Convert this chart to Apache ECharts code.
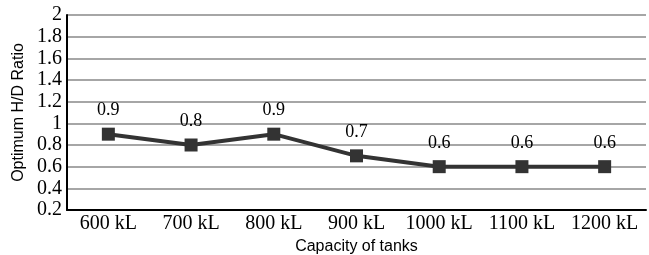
<!DOCTYPE html>
<html>
<head>
<meta charset="utf-8">
<script src="https://cdn.jsdelivr.net/npm/echarts@6/dist/echarts.min.js"></script>
<style>
  html, body { margin: 0; padding: 0; background: #fff; }
  #chart { width: 649px; height: 255px; }
</style>
</head>
<body>
<div id="chart"></div>
<script>
const categories = ['600 kL', '700 kL', '800 kL', '900 kL', '1000 kL', '1100 kL', '1200 kL']
const hdRatio = [0.9, 0.8, 0.9, 0.7, 0.6, 0.6, 0.6]
const yTicks = [0.2, 0.4, 0.6, 0.8, 1, 1.2, 1.4, 1.6, 1.8, 2]

const serif = '"Liberation Serif", "DejaVu Serif", serif'
const sans = '"Liberation Sans", Arial, sans-serif'

const chart = echarts.init(document.getElementById('chart'))

chart.setOption({
  animation: false,
  grid: {
    left: 67,
    right: 3,
    top: 15,
    bottom: 45,
    outerBoundsMode: 'none',
    containLabel: false
  },
  xAxis: {
    type: 'category',
    data: categories,
    boundaryGap: true,
    name: 'Capacity of tanks',
    nameLocation: 'middle',
    nameGap: 26,
    nameTextStyle: { fontFamily: sans, fontSize: 16, color: '#000' },
    axisLine: { lineStyle: { color: '#000', width: 2 } },
    axisTick: { show: false },
    axisLabel: { interval: 0, fontFamily: serif, fontSize: 20, color: '#000', margin: 4 },
    splitLine: { show: false }
  },
  yAxis: {
    type: 'value',
    min: yTicks[0],
    max: yTicks[yTicks.length - 1],
    interval: 0.2,
    name: 'Optimum H/D Ratio',
    nameLocation: 'middle',
    nameGap: 36,
    nameTextStyle: { fontFamily: sans, fontSize: 16, color: '#000' },
    axisLine: { show: true, lineStyle: { color: '#000', width: 2 } },
    axisTick: { show: false },
    axisLabel: {
      fontFamily: serif,
      fontSize: 20,
      color: '#000',
      margin: 5,
      formatter: function (v) {
        return String(Math.round(v * 10) / 10)
      }
    },
    splitLine: { show: true, lineStyle: { color: '#a6a6a6', width: 2 } }
  },
  series: [
    {
      name: 'Optimum H/D Ratio',
      type: 'line',
      data: hdRatio,
      symbol: 'rect',
      symbolSize: 13,
      itemStyle: { color: '#333' },
      lineStyle: { color: '#333', width: 4 },
      label: {
        show: true,
        position: 'top',
        distance: 8,
        fontFamily: serif,
        fontSize: 18,
        color: '#000',
        formatter: function (p) {
          return p.value.toFixed(1)
        }
      }
    }
  ]
})
</script>
</body>
</html>
